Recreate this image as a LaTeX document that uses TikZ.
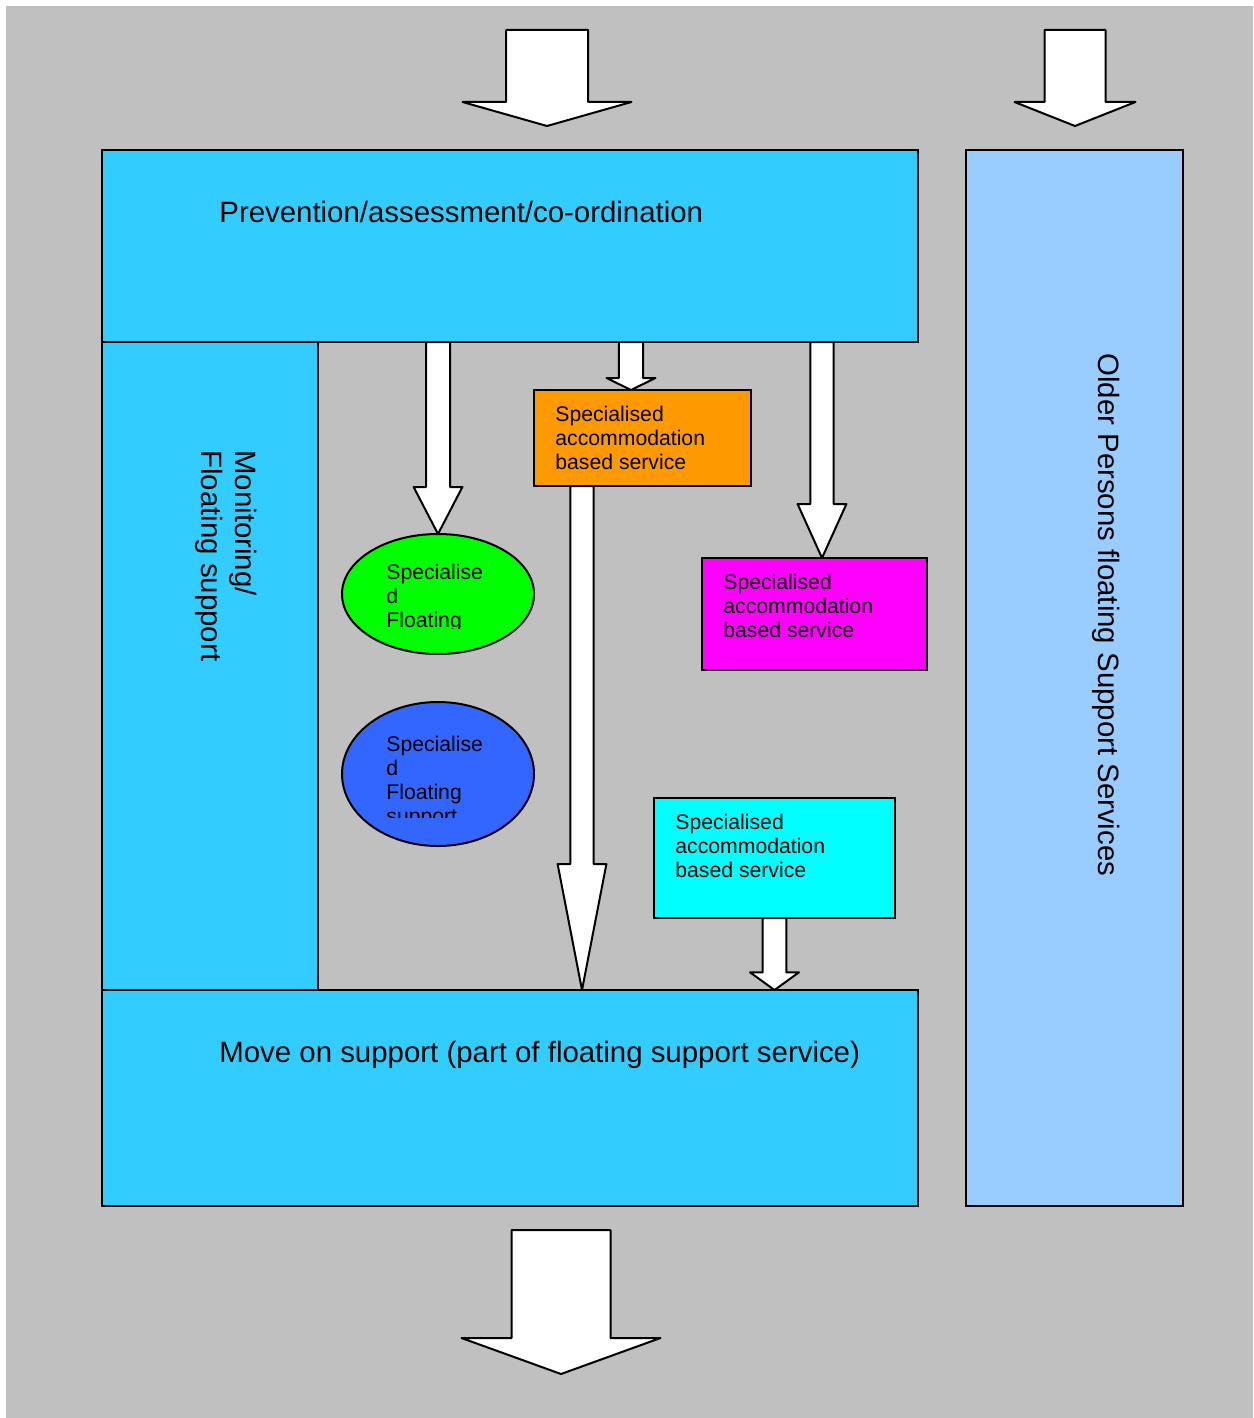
\documentclass[tikz,border=0pt]{standalone}
\usepackage{fontspec}
\setmainfont{Liberation Sans}
\usetikzlibrary{shapes.geometric,calc}
\definecolor{bggray}{HTML}{C0C0C0}
\definecolor{mainblue}{HTML}{33CCFF}
\definecolor{olderblue}{HTML}{99CCFF}
\definecolor{accorange}{HTML}{FF9900}
\definecolor{accmagenta}{HTML}{FF00FF}
\definecolor{acccyan}{HTML}{00FFFF}
\definecolor{floatgreen}{HTML}{00FF00}
\definecolor{floatblue}{HTML}{3366FF}

\begin{document}
\begin{tikzpicture}[x=0.5pt,y=-0.5pt,
  box/.style={rectangle,draw,line width=1pt,inner sep=0pt,outer sep=0pt},
  oval/.style={ellipse,draw,line width=1pt,inner sep=0pt,outer sep=0pt},
  bigtext/.style={inner sep=0pt,font=\fontsize{14.7}{17}\selectfont},
  smalltext/.style={inner sep=0pt,align=left,anchor=north west,font=\fontsize{10.6}{12}\selectfont},
  fatarr/.style={draw,fill=white,line width=1pt,line join=round}]
\def\fatarrow#1#2#3#4#5{%
  \draw[fatarr] let \p1=(#1), \p2=(#2) in
    (\x1-#3,\y1) -- (\x1+#3,\y1) -- (\x1+#3,\y2+#5) -- (\x1+#4,\y2+#5)
    -- (\x1,\y2) -- (\x1-#4,\y2+#5) -- (\x1-#3,\y2+#5) -- cycle;}
\useasboundingbox (0,0) rectangle (1253,1418);
\fill[bggray] (6,6) rectangle (1253,1418);

\path
(510,246) node [box,fill=mainblue,minimum width=408pt,minimum height=96pt] (prev) {}
(210,666) node [box,fill=mainblue,minimum width=108pt,minimum height=324pt] (monitor) {}
(510,1098) node [box,fill=mainblue,minimum width=408pt,minimum height=108pt] (move) {}
(1074.5,678) node [box,fill=olderblue,minimum width=108.5pt,minimum height=528pt] (older) {}
(642.25,438) node [box,fill=accorange,minimum width=108.25pt,minimum height=48pt] (orange) {}
(814.5,614) node [box,fill=accmagenta,minimum width=112.5pt,minimum height=56pt] (magenta) {}
(774.5,858) node [box,fill=acccyan,minimum width=120.5pt,minimum height=60pt] (cyan) {}
(438,594) node [oval,fill=floatgreen,minimum width=96pt,minimum height=60pt] (green) {}
(438,774) node [oval,fill=floatblue,minimum width=96pt,minimum height=72pt] (blue) {}
;

\path
(219,222) node [bigtext,anchor=base west] (prevtext) {Prevention/assessment/co-ordination}
(219,1062) node [bigtext,anchor=base west] (movetext) {Move on support (part of floating support service)}
(257,450) node [bigtext,rotate=-90,anchor=north west,align=left] (monitortext) {Monitoring/\\Floating support}
(1098,353) node [bigtext,rotate=-90,anchor=base west] (oldertext) {Older Persons floating Support Services}
(555,405.6) node [smalltext] (orangetext) {Specialised\\accommodation\\based service}
(723,573.6) node [smalltext] (magentatext) {Specialised\\accommodation\\based service}
(675,813.6) node [smalltext] (cyantext) {Specialised\\accommodation\\based service}
;
\begin{scope}
\clip (342,534) rectangle (534,628.5);
\node [smalltext] (greentext) at (386,564) {Specialise\\d\\Floating\\support};
\end{scope}
\begin{scope}
\clip (342,702) rectangle (534,817);
\node [smalltext] (bluetext) at (386,735.3) {Specialise\\d\\Floating\\support};
\end{scope}

\coordinate (topin) at (547,30);
\coordinate (topintip) at (547,126);
\coordinate (oldin) at (1075,30);
\coordinate (oldintip) at (1075,126);
\coordinate (exit) at (561,1230);
\coordinate (exittip) at (561,1374);
\coordinate (toorange) at (631,342);
\coordinate (tomagenta) at (822,342);
\coordinate (fromorange) at (582,486);

\fatarrow{topin}{topintip}{20.5pt}{42.25pt}{12pt}
\fatarrow{oldin}{oldintip}{15.25pt}{30.25pt}{12pt}
\fatarrow{exit}{exittip}{24.75pt}{49.75pt}{18pt}
\fatarrow{green.north |- prev.south}{green.north}{6pt}{12.2pt}{23.5pt}
\fatarrow{toorange}{orange.north}{6.1pt}{12.25pt}{6pt}
\fatarrow{tomagenta}{magenta.north}{5.85pt}{12.2pt}{27pt}
\fatarrow{fromorange}{move.north}{5.85pt}{12.2pt}{63pt}
\fatarrow{cyan.south}{move.north}{5.9pt}{12.25pt}{8.85pt}
\end{tikzpicture}
\end{document}
